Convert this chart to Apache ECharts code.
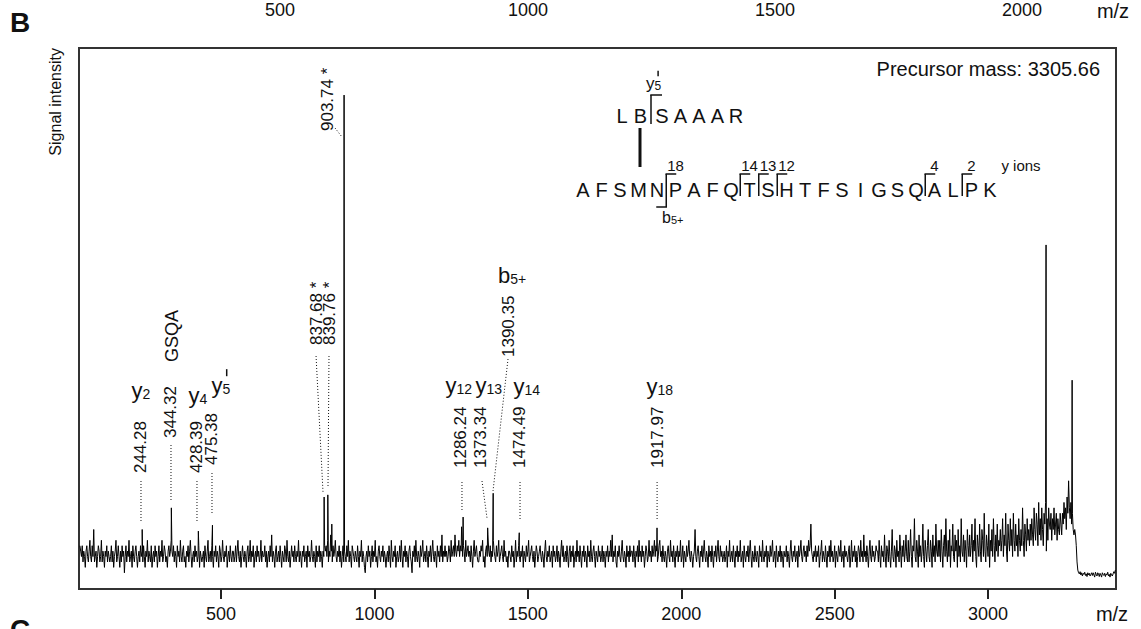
<!DOCTYPE html>
<html><head><meta charset="utf-8">
<script src="https://cdn.jsdelivr.net/npm/echarts@6/dist/echarts.min.js"></script>
<style>html,body{margin:0;padding:0;background:#fff}#c{width:1141px;height:629px}</style>
</head><body><div id="c"></div>
<script>
// ---------------- data ----------------
const xMin = 37, xMax = 3417;
const startMz = 40, stepMz = 2.5;
// spectrum trace, one value every 2.5 m/z from 40 to 3415 (one row = 100 m/z)
const noise = [
8,7,6,8,5,7,6,4,7,8,6,5,7,9,6,5,8,6,11,5,6,7,4,6,8,7,5,6,9,5,7,6,4,7,6,8,5,7,6,5,
6,8,5,7,4,6,7,9,5,6,8,6,4,7,5,8,6,7,3,6,8,5,7,6,9,5,6,7,4,8,6,5,7,8,6,4,6,7,5,8,
6,7,5,8,6,4,7,6,9,5,7,6,5,8,4,6,7,5,8,6,7,4,6,8,5,7,6,9,5,6,8,7,5,6,4,7,8,6,7,9,
7,6,8,5,7,6,4,8,6,7,5,9,6,5,7,8,5,6,4,7,6,8,5,7,9,6,4,6,7,5,8,6,7,5,6,8,4,7,6,5,
6,7,4,8,6,5,7,9,5,6,7,5,8,6,4,7,6,8,5,7,6,4,8,7,5,6,9,6,5,7,6,8,4,6,7,5,8,6,5,7,
7,5,6,8,5,7,9,6,5,7,4,6,8,6,5,7,6,4,7,8,5,6,9,5,7,6,8,4,6,7,5,8,6,7,5,6,9,5,7,6,
6,8,5,7,4,6,7,5,8,6,10,5,7,6,4,7,8,5,6,7,5,8,6,4,7,6,5,8,7,5,9,6,5,7,4,6,8,6,7,5,
8,6,5,7,6,9,5,7,6,4,7,6,8,5,6,7,4,8,6,7,5,6,9,6,5,7,6,4,8,5,7,6,8,5,7,6,4,7,6,8,
7,8,6,9,5,7,6,10,7,5,8,6,7,9,6,5,7,6,8,5,7,4,6,8,5,7,6,5,8,6,9,5,7,6,4,8,7,6,5,7,
6,5,8,6,4,7,6,9,5,7,6,4,3,6,7,5,8,6,7,4,6,8,5,7,6,9,5,6,4,7,8,6,5,7,6,8,5,7,6,4,
6,7,5,8,6,4,9,6,5,7,6,8,4,6,7,5,6,8,5,9,6,4,7,6,8,5,7,6,4,7,8,6,5,3,7,6,8,5,9,6,
5,7,6,4,8,6,7,9,5,6,7,5,8,6,4,7,6,8,5,7,9,6,5,7,6,4,8,6,7,5,8,6,10,5,7,6,8,6,7,5,
6,8,7,5,9,6,7,8,6,10,7,6,8,7,9,6,8,7,10,6,8,7,5,9,6,7,8,6,7,5,8,6,4,7,9,6,7,8,6,5,
5,7,6,8,7,9,5,6,4,7,8,6,10,7,6,8,5,7,6,9,7,6,5,8,6,7,9,5,6,7,8,6,5,9,6,7,5,6,4,7,
7,6,5,8,6,7,4,6,9,5,7,6,8,6,5,7,6,8,4,7,6,5,8,6,7,9,5,6,7,8,6,5,7,4,6,8,7,5,6,7,
8,6,5,7,6,4,7,9,6,5,7,6,8,5,6,7,4,8,6,7,5,6,8,5,7,6,4,7,9,6,8,5,6,7,5,8,6,4,7,8,
5,7,6,8,4,6,7,5,9,6,7,5,8,6,4,7,6,8,5,7,6,4,8,6,7,5,9,6,5,7,8,6,4,7,6,5,8,6,7,5,
6,8,5,7,6,4,7,6,8,5,7,6,9,6,10,5,7,6,8,5,4,7,6,8,6,5,7,9,6,5,7,6,4,8,6,7,5,8,6,7,
7,5,8,6,4,7,6,8,5,9,6,7,5,8,6,7,4,6,8,7,5,6,9,6,7,5,8,6,7,9,6,8,7,5,6,8,9,6,7,5,
8,6,5,7,6,4,7,8,6,5,9,6,7,5,8,6,4,7,6,8,5,7,6,9,5,6,8,4,7,6,5,8,6,7,9,6,5,7,6,4,
6,7,11,6,5,7,8,6,4,7,6,8,5,7,9,6,5,7,6,4,8,6,7,5,8,6,4,7,6,8,5,7,9,6,5,8,6,7,5,6,
7,5,6,8,4,7,6,9,5,6,7,5,8,6,4,7,6,8,5,7,6,9,5,6,7,4,8,6,5,7,6,8,5,7,9,6,4,7,6,5,
8,6,5,7,6,4,8,6,7,5,9,6,5,7,6,8,4,7,6,5,8,6,7,9,5,6,7,4,8,6,5,7,6,8,5,7,6,4,7,6,
6,8,5,7,6,4,7,9,6,5,7,6,8,5,6,7,4,8,6,7,9,6,5,7,8,6,7,5,8,6,9,7,8,12,7,6,5,7,6,8,
5,7,6,8,4,6,7,9,5,7,6,5,8,6,4,7,6,8,5,9,6,7,5,6,8,4,7,6,5,8,7,6,9,5,6,7,4,8,6,7,
6,5,7,8,4,6,9,5,7,6,8,5,7,4,6,8,7,5,9,6,7,5,10,6,7,5,8,6,4,7,9,6,5,8,6,7,5,6,8,7,
7,5,9,6,4,8,6,7,5,10,6,4,8,7,5,9,6,4,7,11,6,5,8,7,4,9,6,7,5,10,7,4,8,6,9,5,7,10,6,5,
9,5,7,11,6,4,8,7,13,6,5,9,7,4,10,6,8,5,7,12,6,4,9,7,5,8,11,6,5,9,7,4,10,6,8,5,12,7,6,9,
6,9,5,11,7,4,8,10,6,13,7,5,9,6,11,4,8,7,12,6,5,10,7,9,4,11,6,8,5,13,7,6,10,5,9,7,4,11,8,6,
10,6,8,12,5,9,7,13,6,4,10,8,6,12,7,5,11,9,6,14,7,5,10,8,6,12,4,9,7,11,6,13,8,5,10,7,12,6,9,8,
11,7,9,13,6,10,8,14,7,5,12,9,7,13,8,11,6,14,9,7,12,8,10,6,13,9,7,11,8,15,9,6,12,10,7,13,9,11,8,12,
9,13,10,8,15,11,9,14,12,8,16,10,13,9,15,11,8,14,12,16,7,13,9,15,12,11,14,9,13,11,15,10,12,14,9,13,11,10,14,12,
10,14,12,16,13,15,11,17,14,20,15,13,16,12,14,11,10,11,10,8,5,3.5,3,2.8,3.2,2.6,3,2.4,2.9,2.7,3.1,2.5,2.8,2.3,3,2.6,2.9,2.4,2.7,3,
2.5,3,2.6,2.2,3.1,2.7,2.4,3,2.8,2.3,2.9,2.6,2.2,3,2.7,2.5,2.9,2.3,2.8,2.6,3.1,2.4,2.7,2.2,2.9,2.6,2.4,2.8,3.2,2.9,3.5
];
// distinct peaks
const peakMz  = [243, 338, 426, 472, 836, 848, 861, 901, 1284, 1289, 1369, 1387, 1472, 1921, 3189, 3274];
const peakInt = [11.0, 15.0, 10.7, 11.8, 17.0, 17.4, 12.0, 91.3, 11.5, 13.3, 11.3, 17.7, 10.4, 11.3, 63.6, 38.6];
const tickValues = [500, 1000, 1500, 2000, 2500, 3000];
// peak annotations
const annotMz   = [244.28, 344.32, 428.39, 475.38, 837.68, 839.76, 903.74, 1286.24, 1373.34, 1390.35, 1474.49, 1917.97];
const annotText = ['244.28','344.32','428.39','475.38','837.68 *','839.76 *','903.74 *','1286.24','1373.34','1390.35','1474.49','1917.97'];
const peptideMain = 'AFSMNPAFQTSHTFSIGSQALPK';
const peptideLink = 'LBSAAAR';
const yIonCuts = [4, 8, 9, 10, 18, 20];
const yIonNumbers = ['18', '14', '13', '12', '4', '2'];
const topStrayLabels = ['500', '1000', '1500', '2000'];

// ---------------- layout (pixels) ----------------
const FONT = '"Liberation Sans", Arial, Helvetica, sans-serif';
// [label dx from peak, label bottom y, leader dx1, y1, dx2, y2]
const annotLayout = [
  [-1.6, 473, -1.6, 481, -1.6, 521],
  [-2.3, 438, -2.3, 445, -2.3, 500],
  [-2.1, 473, -2.1, 481, -2.1, 521],
  [-1.5, 465, -1.5, 473, -1.5, 513],
  [-8.6, 345, -8.6, 356, -1.6, 493],
  [4.7, 345, 3.7, 356, 2.7, 488],
  [-17.9, 131, -9.9, 128, -2.9, 137],
  [-1.3, 468, -0.3, 482, -0.3, 512],
  [-8.0, 468, -7.0, 481, -2.0, 518],
  [13.8, 357, 13.8, 359, -1.2, 491],
  [-1.0, 468, 0, 482, 0, 520],
  [1.0, 468, 1.0, 482, 1.0, 520]
];

const chart = echarts.init(document.getElementById('c'), null, {renderer: 'svg', width: 1141, height: 629});

const spectrum = noise.map((v, i) => [startMz + i * stepMz, v]);
peakMz.forEach((m, i) => spectrum.push([m, peakInt[i]]));
spectrum.sort((a, b) => a[0] - b[0]);

chart.setOption({
  animation: false,
  grid: {left: 79, right: 25, top: 48, bottom: 40, show: true, borderColor: '#333', borderWidth: 2},
  xAxis: {
    type: 'value', min: xMin, max: xMax,
    axisLine: {show: false},
    axisTick: {show: true, length: 10, customValues: tickValues, lineStyle: {color: '#222', width: 2}},
    axisLabel: {customValues: tickValues, fontSize: 18, color: '#111', fontFamily: FONT, margin: 16,
      formatter: v => String(v)},
    splitLine: {show: false}
  },
  yAxis: {type: 'value', min: 0, max: 100, show: false},
  series: [{
    type: 'line', data: spectrum, showSymbol: false, symbol: 'none', silent: true,
    lineStyle: {color: '#000', width: 1}
  }]
});

const px = m => chart.convertToPixel({xAxisIndex: 0}, m);
const g = [];
function txt(x, y, text, size, o) {
  o = o || {};
  g.push({type: 'text', x: x, y: y, rotation: o.rot || 0, silent: true,
    style: {text: text, fontSize: size, fontFamily: FONT, fill: '#111',
      align: o.align || 'center', verticalAlign: o.va || 'middle', fontWeight: o.weight || 'normal'}});
}
function seg(x1, y1, x2, y2, w, dash) {
  g.push({type: 'line', silent: true, shape: {x1: x1, y1: y1, x2: x2, y2: y2},
    style: {stroke: '#111', lineWidth: w, lineDash: dash || null}});
}
function ion(xl, y, main, sub, big, small, prime) {
  txt(xl, y, main, big, {align: 'left'});
  const w = big * (main === 'b' ? 0.556 : 0.5);
  txt(xl + w, y + big * 0.2, sub, small, {align: 'left'});
  if (prime) seg(xl + w + small * 0.3, y - big * 0.72, xl + w + small * 0.3, y - big * 0.4, 1.5);
}

// peak labels
annotMz.forEach((m, i) => {
  const X = px(m), L = annotLayout[i];
  txt(X + L[0], L[1], annotText[i], 17, {rot: Math.PI / 2, align: 'left'});
  seg(X + L[2], L[3], X + L[4], L[5], 1, [1, 2]);
});
// ion labels in spectrum
ion(131.5, 390, 'y', '2', 22, 14);
txt(172, 362, 'GSQA', 18, {rot: Math.PI / 2, align: 'left'});
ion(188.5, 395, 'y', '4', 22, 14);
ion(211.5, 385, 'y', '5', 22, 14, true);
ion(445.5, 385, 'y', '12', 22, 14);
ion(475.5, 385, 'y', '13', 22, 14);
ion(513.5, 386, 'y', '14', 22, 14);
ion(646.5, 386, 'y', '18', 22, 14);
ion(498, 275, 'b', '5+', 22, 14);

// axis decorations
txt(1112, 614, 'm/z', 20);
txt(55, 48, 'Signal intensity', 16, {rot: Math.PI / 2, align: 'right'});
txt(20, 22, 'B', 28, {weight: 'bold'});
txt(20, 629, 'C', 28, {weight: 'bold'});
const strayX = [280, 528, 775, 1022];
topStrayLabels.forEach((t, i) => txt(strayX[i], 10, t, 18));
txt(1113, 11, 'm/z', 20);

// sequence diagram
const dy = -7;
txt(1100, 69, 'Precursor mass: 3305.66', 20, {align: 'right'});
const sx0 = 583, sp = 18.5, sy = 197 + dy;
peptideMain.split('').forEach((ch, i) => txt(sx0 + i * sp, sy, ch, 20));
yIonCuts.forEach((c, k) => {
  const bx = sx0 + (c + 0.5) * sp;
  seg(bx, 181 + dy, bx, (c === 4 ? 214 : 203) + dy, 1.5);
  seg(bx - 0.75, 181 + dy, bx + 10, 181 + dy, 1.5);
  if (c === 4) seg(bx - 10, 214 + dy, bx + 0.75, 214 + dy, 1.5);
  txt(sx0 + (c + 1) * sp, 172 + dy, yIonNumbers[k], 15);
});
txt(1021, 172 + dy, 'y ions', 15);
const lx = [622, 640.5, 662, 680.5, 699, 717.5, 736];
peptideLink.split('').forEach((ch, i) => txt(lx[i], 123 + dy, ch, 20));
seg(651, 102 + dy, 651, 131 + dy, 1.5);
seg(650.25, 102 + dy, 662, 102 + dy, 1.5);
seg(640, 135 + dy, 640, 174 + dy, 3);
ion(646, 90 + dy, 'y', '5', 17, 12, true);
ion(662, 224 + dy, 'b', '5+', 16, 11);

chart.setOption({graphic: {elements: g}});
</script>
</body></html>
